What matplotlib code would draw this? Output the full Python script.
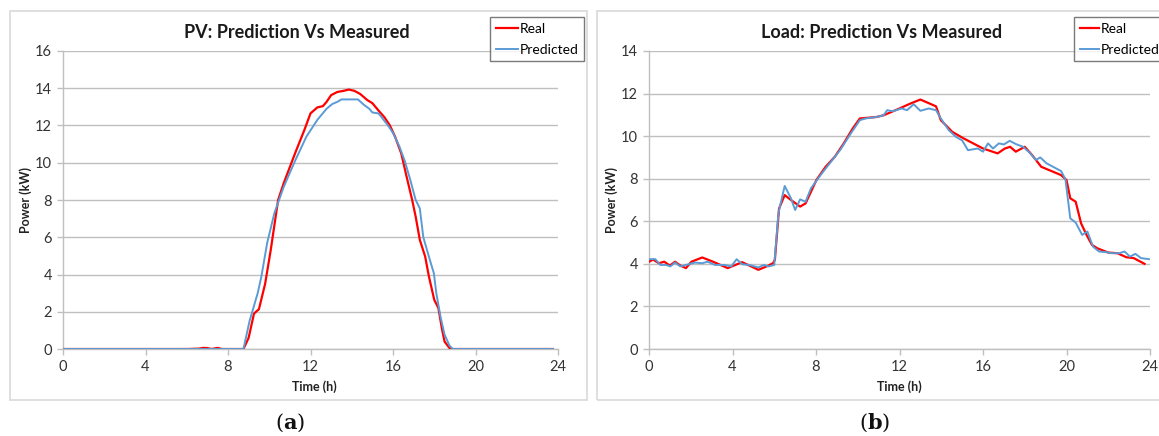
import matplotlib
matplotlib.use("Agg")
import matplotlib.pyplot as plt
from matplotlib.patches import Rectangle

plt.rcParams['font.family'] = ['Lato', 'DejaVu Sans']

# ---------------- data ----------------
pv_real_t = [0, 1, 2, 3, 4, 5, 6, 6.6, 6.8, 7.0, 7.2, 7.5, 7.7, 8.0, 8.5, 8.75,
             9.0, 9.26, 9.5, 9.8, 10.07, 10.43, 10.7, 11.25, 11.7, 12.0, 12.33, 12.6,
             12.78, 13.0, 13.3, 13.6, 13.86, 14.13, 14.4, 14.76, 15.0, 15.3, 15.58,
             15.85, 16.1, 16.4, 16.66, 16.93, 17.1, 17.3, 17.56, 17.74, 18.0, 18.2,
             18.37, 18.5, 18.74, 18.86, 19.5, 20, 21, 22, 23, 23.75]
pv_real_v = [0, 0, 0, 0, 0, 0, 0, 0.02, 0.06, 0.05, 0.0, 0.06, 0.0, 0, 0, 0,
             0.6, 1.9, 2.14, 3.5, 5.3, 8.0, 8.9, 10.5, 11.75, 12.65, 12.97, 13.04,
             13.27, 13.63, 13.8, 13.86, 13.93, 13.86, 13.7, 13.36, 13.2, 12.8, 12.45,
             12.0, 11.4, 10.5, 9.25, 8.0, 7.1, 5.86, 4.96, 3.9, 2.64, 2.2,
             1.1, 0.4, 0.05, 0, 0, 0, 0, 0, 0, 0]

pv_pred_t = [0, 1, 2, 3, 4, 5, 6, 7, 8, 8.75,
             9.04, 9.44, 9.62, 9.9, 10.25, 10.7, 11.25, 11.8, 12.33, 12.78, 13.05,
             13.3, 13.5, 13.86, 14.3, 14.6, 14.85, 15.0, 15.3, 15.76, 16.0, 16.3,
             16.57, 16.84, 17.1, 17.3, 17.47, 17.74, 17.98, 18.1, 18.3, 18.5, 18.74,
             18.9, 19.5, 20, 21, 22, 23, 23.75]
pv_pred_v = [0, 0, 0, 0, 0, 0, 0, 0, 0, 0,
             1.48, 3.0, 3.9, 5.7, 7.3, 8.7, 10.1, 11.4, 12.3, 12.9, 13.15,
             13.27, 13.4, 13.4, 13.4, 13.1, 12.9, 12.7, 12.65, 12.0, 11.6, 10.9,
             10.1, 9.07, 8.0, 7.55, 6.0, 4.96, 4.07, 3.0, 1.75, 0.77, 0.18,
             0, 0, 0, 0, 0, 0, 0]

load_real_t = [0, 0.2, 0.47, 0.73, 1.0, 1.25, 1.5, 1.77, 2.03, 2.55, 3.07, 3.77,
               4.46, 5.24, 5.68, 5.94, 6.03, 6.23, 6.5, 6.8, 7.24, 7.5, 8.02, 8.46,
               8.9, 9.33, 9.76, 10.1, 10.9, 11.24, 12.0, 12.45, 13.0, 13.75, 13.98,
               14.53, 15.06, 16.0, 16.7, 17.05, 17.3, 17.57, 18.0, 18.36, 18.79,
               19.74, 20.0, 20.18, 20.44, 20.7, 20.96, 21.22, 21.48, 22.0, 22.44,
               22.87, 23.22, 23.74]
load_real_v = [4.1, 4.2, 4.03, 4.1, 3.92, 4.1, 3.92, 3.8, 4.1, 4.3, 4.1, 3.8,
               4.08, 3.72, 3.9, 4.03, 4.19, 6.6, 7.23, 7.0, 6.69, 6.84, 7.94, 8.56,
               9.03, 9.66, 10.36, 10.83, 10.9, 10.98, 11.3, 11.5, 11.72, 11.4, 10.75,
               10.2, 9.9, 9.42, 9.19, 9.42, 9.5, 9.27, 9.5, 9.1, 8.56,
               8.17, 7.94, 7.08, 6.92, 5.9, 5.36, 4.89, 4.73, 4.53, 4.5,
               4.31, 4.27, 4.0]

load_pred_t = [0, 0.3, 0.55, 0.82, 1.02, 1.25, 1.5, 1.77, 2.2, 2.55, 2.81, 3.16,
               3.6, 3.94, 4.2, 4.46, 4.8, 5.24, 5.5, 5.73, 6.0, 6.2, 6.5, 6.8, 7.0,
               7.24, 7.5, 7.76, 8.28, 8.72, 9.15, 9.67, 10.1, 10.37, 10.9, 11.24,
               11.41, 11.67, 12.1, 12.36, 12.68, 13.0, 13.4, 13.75, 13.98, 14.36,
               14.7, 15.0, 15.28, 15.75, 16.0, 16.24, 16.48, 16.76, 17.0, 17.28,
               17.57, 17.92, 18.27, 18.53, 18.74, 19.05, 19.74, 19.95, 20.18, 20.44,
               20.75, 21.0, 21.27, 21.56, 21.9, 22.18, 22.52, 22.78, 23.04, 23.3,
               23.57, 23.95]
load_pred_v = [4.22, 4.22, 3.95, 3.95, 3.88, 4.06, 3.88, 3.95, 4.06, 4.03, 4.1, 3.95,
               3.95, 3.88, 4.22, 3.98, 3.95, 3.83, 3.95, 3.88, 3.95, 6.38, 7.66, 7.08,
               6.53, 7.03, 6.92, 7.55, 8.25, 8.8, 9.34, 10.13, 10.75, 10.83, 10.9,
               10.98, 11.22, 11.17, 11.3, 11.22, 11.5, 11.19, 11.3, 11.22, 10.83,
               10.28, 9.97, 9.8, 9.34, 9.42, 9.27, 9.66, 9.42, 9.66, 9.61, 9.78,
               9.63, 9.5, 9.19, 8.88, 9.0, 8.72, 8.36, 7.97, 6.14, 5.94,
               5.36, 5.52, 4.81, 4.58, 4.55, 4.5, 4.5, 4.58, 4.34, 4.47,
               4.27, 4.22]

x_ticks = [0, 4, 8, 12, 16, 20, 24]
pv_y_ticks = [0, 2, 4, 6, 8, 10, 12, 14, 16]
load_y_ticks = [0, 2, 4, 6, 8, 10, 12, 14]
series_labels = ["Real", "Predicted"]
titles = ["PV: Prediction Vs Measured", "Load: Prediction Vs Measured"]
captions = ["a", "b"]

RED = "#FF0000"
BLUE = "#5B9BD5"
GRID = "#BFBFBF"

W, H = 1159, 436
fig = plt.figure(figsize=(W / 100, H / 100), dpi=100)


def fx(px):
    return px / W


def fy(py):
    return 1 - py / H


# panel borders
for (x0, x1) in [(10, 587), (597, 1170)]:
    fig.patches.append(Rectangle((fx(x0), fy(400)), fx(x1 - x0), (400 - 11) / H,
                                 transform=fig.transFigure, fill=False,
                                 edgecolor="#D9D9D9", linewidth=1.2))

panels = [
    dict(ax_x=(63, 558), data=(pv_real_t, pv_real_v, pv_pred_t, pv_pred_v),
         yticks=pv_y_ticks, title_x=297, ylab_x=26, xlab_x=314, leg_x=490,
         cap_x=290, hl=1.6),
    dict(ax_x=(649, 1150), data=(load_real_t, load_real_v, load_pred_t, load_pred_v),
         yticks=load_y_ticks, title_x=882, ylab_x=612, xlab_x=899, leg_x=1074,
         cap_x=875, hl=1.4),
]

for i, p in enumerate(panels):
    x0, x1 = p["ax_x"]
    ax = fig.add_axes([fx(x0), fy(349), fx(x1 - x0), (349 - 51) / H])
    rt, rv, pt, pvv = p["data"]
    l1, = ax.plot(rt, rv, color=RED, lw=1.6, label=series_labels[0], zorder=3)
    l2, = ax.plot(pt, pvv, color=BLUE, lw=1.4, label=series_labels[1], zorder=4)
    ax.set_xlim(0, 24)
    ax.set_ylim(p["yticks"][0], p["yticks"][-1])
    ax.set_xticks(x_ticks)
    ax.set_yticks(p["yticks"])
    ax.grid(axis="y", color=GRID, lw=1.0)
    ax.set_axisbelow(True)
    for s in ["top", "right"]:
        ax.spines[s].set_visible(False)
    for s in ["left", "bottom"]:
        ax.spines[s].set_color("#BFBFBF")
        ax.spines[s].set_linewidth(1.0)
    ax.tick_params(axis="both", colors="#BFBFBF", length=4, width=1.0,
                   labelcolor="#333333", labelsize=10.5, pad=4)
    fig.text(fx(p["title_x"]), fy(32), titles[i], ha="center", va="center",
             fontsize=13, fontweight="bold", color="#1a1a1a")
    fig.text(fx(p["ylab_x"]), fy(200), "Power (kW)", rotation=90, ha="center",
             va="center", fontsize=9, fontweight="bold", color="#222222")
    fig.text(fx(p["xlab_x"]), fy(387), "Time (h)", ha="center", va="center",
             fontsize=9, fontweight="bold", color="#222222")
    leg = ax.legend(handles=[l1, l2], loc="upper left",
                    bbox_to_anchor=(fx(p["leg_x"]), fy(17)),
                    bbox_transform=fig.transFigure, frameon=True, fancybox=False,
                    edgecolor="#595959", fontsize=10, handlelength=p["hl"],
                    handletextpad=0.15, labelspacing=0.65, borderpad=0.4,
                    borderaxespad=0)
    leg.get_frame().set_linewidth(1.0)
    fig.text(fx(p["cap_x"]), fy(423), r"($\mathbf{%s}$)" % captions[i],
             ha="center", va="center", fontsize=15, family="DejaVu Serif",
             math_fontfamily="dejavuserif", color="#111111")

fig.savefig("out.png", dpi=100)
